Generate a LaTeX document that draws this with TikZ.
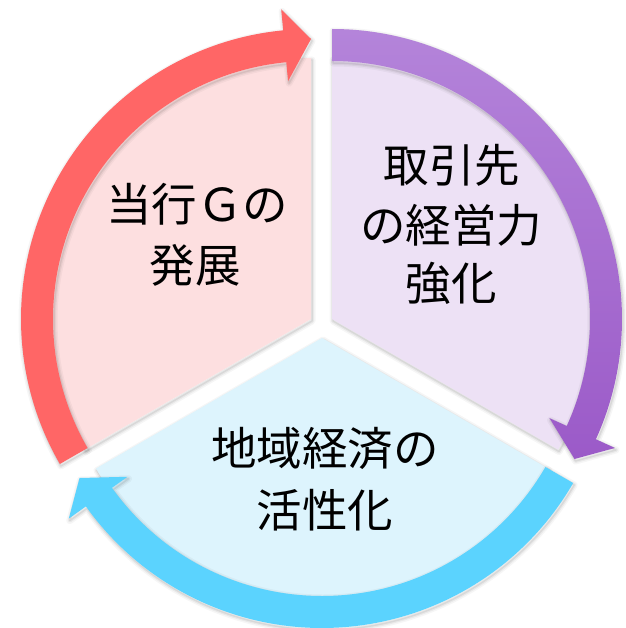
\documentclass[tikz,border=0pt]{standalone}
\usepackage{fontspec}
\newfontfamily\jp{Noto Sans CJK JP}
\definecolor{pinkband}{RGB}{255,102,102}
\definecolor{pinkfill}{RGB}{253,223,224}
\definecolor{purpfill}{RGB}{237,225,245}
\definecolor{purptop}{RGB}{180,132,218}
\definecolor{purpbot}{RGB}{155,90,200}
\definecolor{bluefill}{RGB}{221,244,253}
\definecolor{blueband}{RGB}{91,211,254}
\newcommand\softshadow[1]{%
  \begin{scope}[shift={(1,-2)}]
    \draw[black, line width=7, opacity=0.035, line join=round] #1;
    \draw[black, line width=4, opacity=0.05, line join=round] #1;
    \draw[black, line width=1.5, opacity=0.07, line join=round] #1;
  \end{scope}}
% sector fills (apex at origin)
\def\pinksec{(0,0) -- (90:261) arc[start angle=90, end angle=210, radius=261] -- cycle}
\def\purpsec{(0,0) -- (90:261) arc[start angle=90, end angle=-30, radius=261] -- cycle}
\def\bluesec{(0,0) -- (-30:261) arc[start angle=-30, end angle=-150, radius=261] -- cycle}
% arrows
\def\pinkarr{(210:258) arc[start angle=210, end angle=95.5, radius=258] -- (95.5:239) -- (90:280) -- (95.5:311) -- (95.5:290) arc[start angle=95.5, end angle=210, radius=290] -- cycle}
\def\purparr{(90:258) arc[start angle=90, end angle=-24.5, radius=258] -- (-24.5:239) -- (-30:280) -- (-24.5:311) -- (-24.5:290) arc[start angle=-24.5, end angle=90, radius=290] -- cycle}
\def\bluearr{(-30:258) arc[start angle=-30, end angle=-144.5, radius=258] -- (-144.5:239) -- (-150:280) -- (-144.5:311) -- (-144.5:290) arc[start angle=-144.5, end angle=-30, radius=290] -- cycle}
\tikzset{
  lbl/.style={anchor=base, inner sep=0pt, font=\jp\fontsize{45.5}{55}\selectfont, text=black}
}
\begin{document}
\begin{tikzpicture}[x=1pt, y=1pt]
\useasboundingbox (0,0) rectangle (625,-628);
\fill[white] (0,0) rectangle (625,-628);
% pink segment
\begin{scope}[shift={(311,-319)}]
  \softshadow{\pinksec}
  \fill[pinkfill] \pinksec;
\end{scope}
\begin{scope}[shift={(332,-319)}]
  \softshadow{\purpsec}
  \fill[purpfill] \purpsec;
\end{scope}
\begin{scope}[shift={(322,-338)}]
  \softshadow{\bluesec}
  \fill[bluefill] \bluesec;
\end{scope}
% arrows
\begin{scope}[shift={(311,-319)}]
  \softshadow{\pinkarr}
  \fill[pinkband] \pinkarr;
\end{scope}
\begin{scope}[shift={(332,-319)}]
  \softshadow{\purparr}
  \shade[top color=purptop, bottom color=purpbot] \purparr;
\end{scope}
\begin{scope}[shift={(322,-338)}]
  \softshadow{\bluearr}
  \fill[blueband] \bluearr;
\end{scope}
% labels
\node[lbl] (p1) at (197,-222) {当行Ｇの};
\node[lbl] (p2) at (195,-282) {発展};
\node[lbl] (q1) at (452,-183) {取引先};
\node[lbl] (q2) at (451,-242) {の経営力};
\node[lbl] (q3) at (451,-300) {強化};
\node[lbl] (b1) at (325,-465) {地域経済の};
\node[lbl] (b2) at (325,-527) {活性化};
\end{tikzpicture}
\end{document}
